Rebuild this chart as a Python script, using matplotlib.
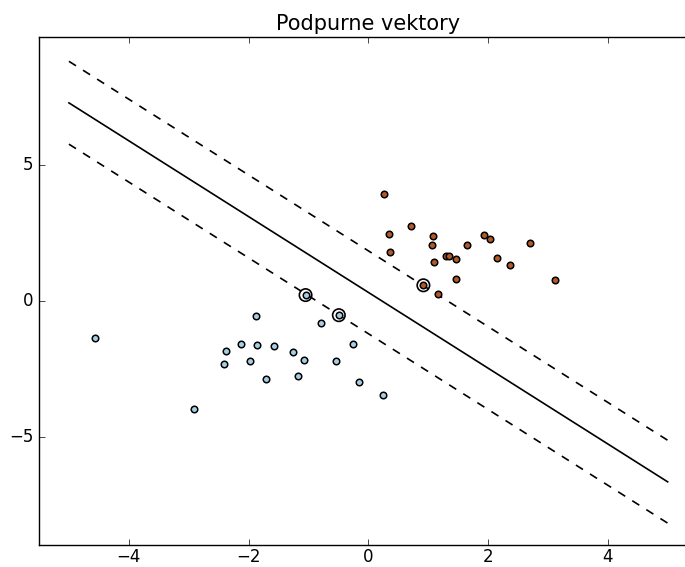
import matplotlib
matplotlib.use("Agg")
import matplotlib.pyplot as plt
import numpy as np

plt.style.use('classic')

# class 0 (blue) points
blue_x = [-1.873, -0.793, -0.492, -2.124, -1.863, -1.579, -2.370, -1.261, -0.263, -2.408,
          -1.980, -1.070, -0.535, -1.706, -1.166, -0.157, -1.048, 0.239, -4.572, -2.910]
blue_y = [-0.54, -0.79, -0.51, -1.58, -1.60, -1.66, -1.84, -1.88, -1.58, -2.29,
          -2.19, -2.15, -2.20, -2.85, -2.74, -2.98, 0.23, -3.46, -1.35, -3.98]
# class 1 (orange) points
orange_x = [0.268, 0.719, 0.344, 1.075, 1.064, 0.361, 1.656, 1.298, 1.343, 1.465,
            1.104, 1.465, 0.920, 1.159, 1.940, 2.033, 2.697, 2.151, 2.368, 3.110]
orange_y = [3.96, 2.79, 2.49, 2.41, 2.07, 1.81, 2.08, 1.65, 1.65, 1.57,
            1.44, 0.84, 0.59, 0.28, 2.45, 2.31, 2.14, 1.61, 1.33, 0.78]
# support vectors
sv_x = [-1.048, -0.492, 0.920]
sv_y = [0.23, -0.51, 0.59]

# separating hyperplane and margins: y = slope*x + intercept
slope = -1.395
intercept_mid = 0.33
intercept_down = -1.19
intercept_up = 1.86
line_x = [-5.0, 5.0]

title = "Podpurne vektory"

fig = plt.figure(figsize=(6.85, 5.67), dpi=100)
fig.patch.set_facecolor('white')
W, H = 685.0, 567.0
left_px, right_px, top_px, bottom_px = 39.0, 697.6, 37.0, 545.0
ax = fig.add_axes([left_px / W, (H - bottom_px) / H,
                   (right_px - left_px) / W, (bottom_px - top_px) / H])

xx = np.array(line_x)
ax.plot(xx, slope * xx + intercept_mid, 'k-', lw=1.2)
ax.plot(xx, slope * xx + intercept_down, 'k--', lw=1.2)
ax.plot(xx, slope * xx + intercept_up, 'k--', lw=1.2)

ax.scatter(sv_x, sv_y, s=80, facecolors='none', edgecolors='k', linewidths=1.2)
ax.scatter(blue_x, blue_y, c='#a6cee3', s=22, edgecolors='k', linewidths=1.1, zorder=3)
ax.scatter(orange_x, orange_y, c='#b15928', s=22, edgecolors='k', linewidths=1.1, zorder=3)

ax.set_xlim(-5.5, 5.5)
ax.set_ylim(-8.97, 9.73)
ax.set_xticks([-4, -2, 0, 2, 4])
ax.set_yticks([-5, 0, 5])
ax.tick_params(axis='x', pad=2)
ax.set_title(title, fontsize=15)

fig.savefig('out.png', dpi=100, facecolor='white')
